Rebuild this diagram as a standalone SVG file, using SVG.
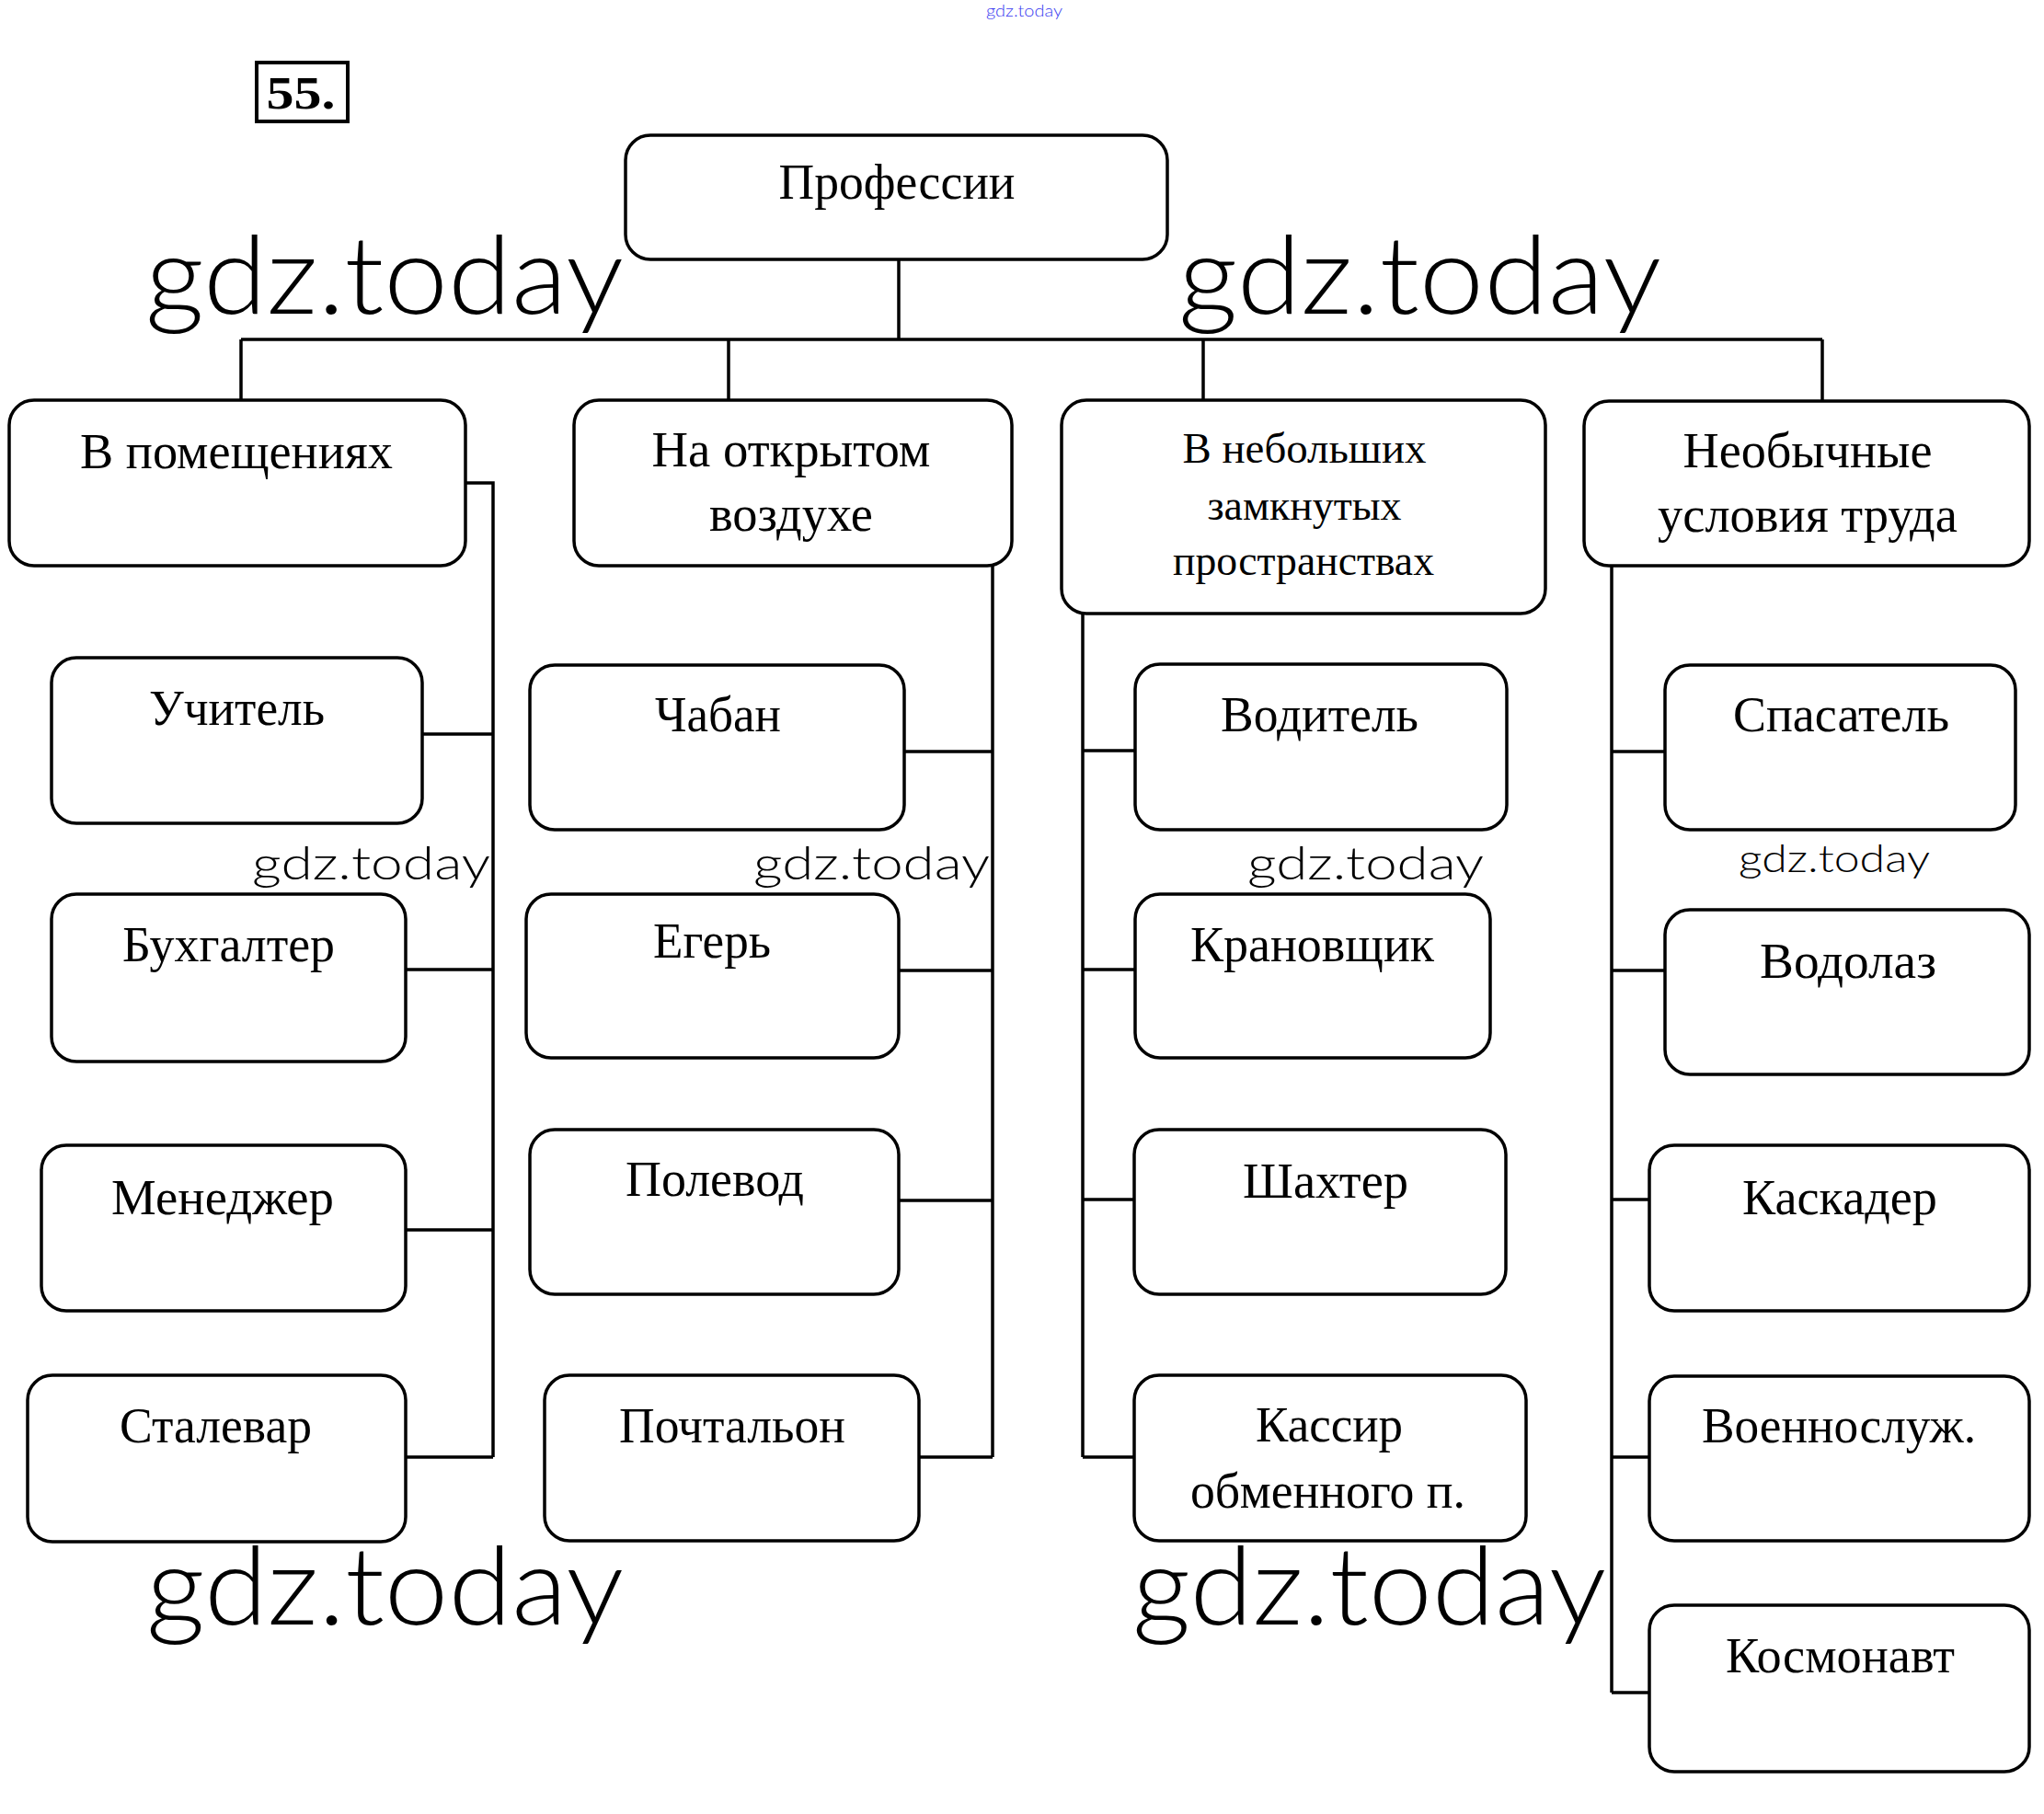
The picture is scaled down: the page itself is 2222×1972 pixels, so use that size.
<svg xmlns="http://www.w3.org/2000/svg" width="2222" height="1972" viewBox="0 0 2222 1972">
<style>
.box{fill:#fff;stroke:#000;stroke-width:3.5}
.t{font-family:"Liberation Serif","Times New Roman",serif;font-size:54px;fill:#000;text-anchor:middle}
.t2{font-size:46px}
.ln{stroke:#000;stroke-width:3.5;fill:none}
.wm{font-family:Lato,"Open Sans","Liberation Sans",sans-serif;font-weight:300;fill:#000}
</style>
<rect width="2222" height="1972" fill="#fff"/>
<g id="connectors" class="ln">
<path d="M977 282V369M262 369H1981M262 369V435M792 369V435M1308 369V435M1981 369V435"/>
<path d="M506 525H536V1584M459 798H536M441 1054H536M441 1337H536M441 1584H536"/>
<path d="M1079 615V1584M983 817H1079M977 1055H1079M977 1305H1079M999 1584H1079"/>
<path d="M1177 667V1584M1177 816H1234M1177 1054H1234M1177 1304H1233M1177 1584H1233"/>
<path d="M1752 615V1840M1752 817H1810M1752 1055H1810M1752 1304H1793M1752 1584H1793M1752 1840H1793"/>
</g>
<g id="n55"><rect x="279" y="68" width="99" height="64" fill="#fff" stroke="#000" stroke-width="4"/><text x="327" y="118" class="t" style="font-weight:bold;font-size:50px" textLength="75" lengthAdjust="spacingAndGlyphs">55.</text></g>
<g id="root"><rect class="box" x="680" y="147" width="589" height="135" rx="27"/><text class="t" x="975" y="216" textLength="257" lengthAdjust="spacingAndGlyphs">Профессии</text></g>
<g id="c1"><rect class="box" x="10" y="435" width="496" height="180" rx="27"/><text class="t" x="257" y="509" textLength="340" lengthAdjust="spacingAndGlyphs">В помещениях</text></g>
<g id="c2"><rect class="box" x="624" y="435" width="476" height="180" rx="27"/><text class="t" x="860" y="507" textLength="303" lengthAdjust="spacingAndGlyphs">На открытом</text><text class="t" x="860" y="577" textLength="178" lengthAdjust="spacingAndGlyphs">воздухе</text></g>
<g id="c3"><rect class="box" x="1154" y="435" width="526" height="232" rx="27"/><text class="t t2" x="1418" y="503" textLength="265" lengthAdjust="spacingAndGlyphs">В небольших</text><text class="t t2" x="1418" y="565" textLength="211" lengthAdjust="spacingAndGlyphs">замкнутых</text><text class="t t2" x="1417" y="625" textLength="284" lengthAdjust="spacingAndGlyphs">пространствах</text></g>
<g id="c4"><rect class="box" x="1722" y="436" width="484" height="179" rx="27"/><text class="t" x="1965" y="508" textLength="271" lengthAdjust="spacingAndGlyphs">Необычные</text><text class="t" x="1965" y="578" textLength="326" lengthAdjust="spacingAndGlyphs">условия труда</text></g>
<g id="a1"><rect class="box" x="56" y="715" width="403" height="180" rx="27"/><text class="t" x="257.5" y="788" textLength="191" lengthAdjust="spacingAndGlyphs">Учитель</text></g>
<g id="a2"><rect class="box" x="56" y="972" width="385" height="182" rx="27"/><text class="t" x="248.5" y="1045" textLength="231" lengthAdjust="spacingAndGlyphs">Бухгалтер</text></g>
<g id="a3"><rect class="box" x="45" y="1245" width="396" height="180" rx="27"/><text class="t" x="242" y="1320" textLength="242" lengthAdjust="spacingAndGlyphs">Менеджер</text></g>
<g id="a4"><rect class="box" x="30" y="1495" width="411" height="181" rx="27"/><text class="t" x="234.5" y="1568" textLength="209" lengthAdjust="spacingAndGlyphs">Сталевар</text></g>
<g id="b1"><rect class="box" x="576" y="723" width="407" height="179" rx="27"/><text class="t" x="780.5" y="795" textLength="137" lengthAdjust="spacingAndGlyphs">Чабан</text></g>
<g id="b2"><rect class="box" x="572" y="972" width="405" height="178" rx="27"/><text class="t" x="774" y="1041" textLength="128" lengthAdjust="spacingAndGlyphs">Егерь</text></g>
<g id="b3"><rect class="box" x="576" y="1228" width="401" height="179" rx="27"/><text class="t" x="777" y="1300" textLength="194" lengthAdjust="spacingAndGlyphs">Полевод</text></g>
<g id="b4"><rect class="box" x="592" y="1495" width="407" height="180" rx="27"/><text class="t" x="796" y="1568" textLength="246" lengthAdjust="spacingAndGlyphs">Почтальон</text></g>
<g id="d1"><rect class="box" x="1234" y="722" width="404" height="180" rx="27"/><text class="t" x="1434.5" y="795" textLength="215" lengthAdjust="spacingAndGlyphs">Водитель</text></g>
<g id="d2"><rect class="box" x="1234" y="972" width="386" height="178" rx="27"/><text class="t" x="1426.5" y="1045" textLength="265" lengthAdjust="spacingAndGlyphs">Крановщик</text></g>
<g id="d3"><rect class="box" x="1233" y="1228" width="404" height="179" rx="27"/><text class="t" x="1441" y="1302" textLength="180" lengthAdjust="spacingAndGlyphs">Шахтер</text></g>
<g id="d4"><rect class="box" x="1233" y="1495" width="426" height="180" rx="27"/><text class="t" x="1445" y="1567" textLength="160" lengthAdjust="spacingAndGlyphs">Кассир</text><text class="t" x="1443.5" y="1639" textLength="299" lengthAdjust="spacingAndGlyphs">обменного п.</text></g>
<g id="e1"><rect class="box" x="1810" y="723" width="381" height="179" rx="27"/><text class="t" x="2001.5" y="795" textLength="235" lengthAdjust="spacingAndGlyphs">Спасатель</text></g>
<g id="e2"><rect class="box" x="1810" y="989" width="396" height="179" rx="27"/><text class="t" x="2009" y="1063" textLength="192" lengthAdjust="spacingAndGlyphs">Водолаз</text></g>
<g id="e3"><rect class="box" x="1793" y="1245" width="413" height="180" rx="27"/><text class="t" x="2000" y="1320" textLength="212" lengthAdjust="spacingAndGlyphs">Каскадер</text></g>
<g id="e4"><rect class="box" x="1793" y="1496" width="413" height="179" rx="27"/><text class="t" x="1999" y="1568" textLength="298" lengthAdjust="spacingAndGlyphs">Военнослуж.</text></g>
<g id="e5"><rect class="box" x="1793" y="1745" width="413" height="181" rx="27"/><text class="t" x="2000.5" y="1818" textLength="249" lengthAdjust="spacingAndGlyphs">Космонавт</text></g>
<g id="watermarks">
<text class="wm" x="1072" y="18" style="font-size:17px;fill:#3a3af0" textLength="83" lengthAdjust="spacingAndGlyphs">gdz.today</text>
<text class="wm" x="158" y="341" style="font-size:118px" textLength="520" lengthAdjust="spacingAndGlyphs">gdz.today</text>
<text class="wm" x="1281" y="341" style="font-size:118px" textLength="525" lengthAdjust="spacingAndGlyphs">gdz.today</text>
<text class="wm" x="159" y="1766" style="font-size:118px" textLength="519" lengthAdjust="spacingAndGlyphs">gdz.today</text>
<text class="wm" x="1231" y="1766" style="font-size:118px" textLength="515" lengthAdjust="spacingAndGlyphs">gdz.today</text>
<text class="wm" x="274" y="956" style="font-size:50px" textLength="259" lengthAdjust="spacingAndGlyphs">gdz.today</text>
<text class="wm" x="819" y="956" style="font-size:50px" textLength="257" lengthAdjust="spacingAndGlyphs">gdz.today</text>
<text class="wm" x="1356" y="956" style="font-size:50px" textLength="257" lengthAdjust="spacingAndGlyphs">gdz.today</text>
<text class="wm" x="1890" y="948" style="font-size:42px" textLength="208" lengthAdjust="spacingAndGlyphs">gdz.today</text>
</g>
</svg>
